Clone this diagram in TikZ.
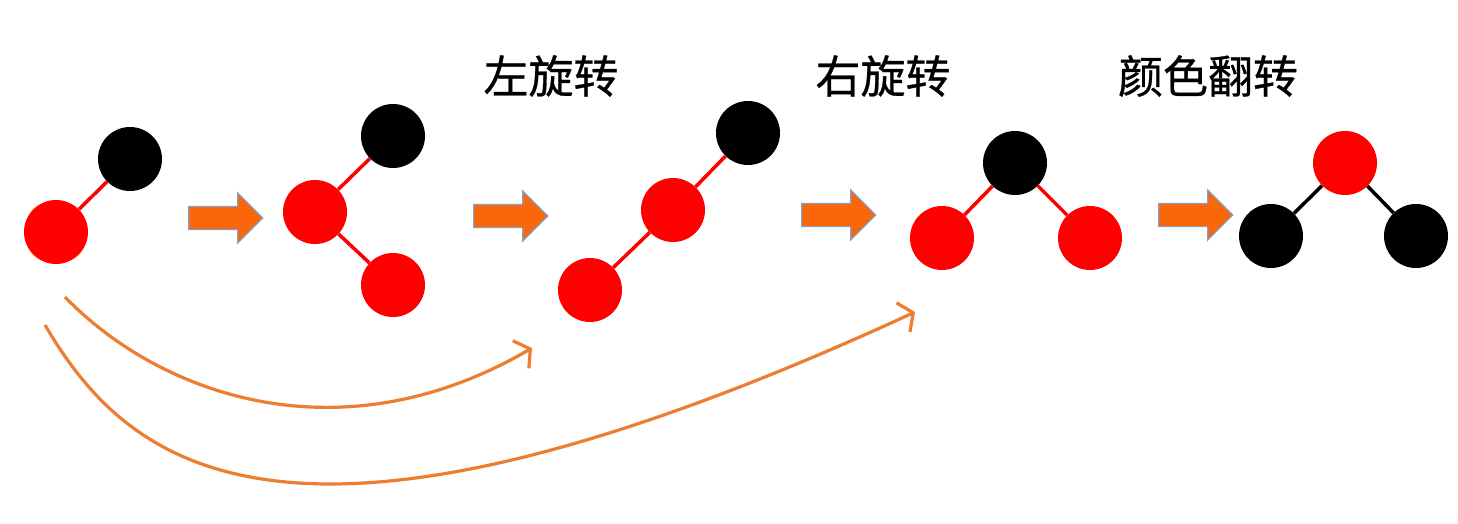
\documentclass[tikz,border=0pt]{standalone}
\usepackage{fontspec}
\newfontfamily\cjk{Noto Sans CJK SC}[RawFeature={embolden=0.6}]
\usetikzlibrary{shapes.arrows,arrows.meta}
\definecolor{rbred}{RGB}{255,0,0}
\definecolor{blockor}{RGB}{250,102,10}
\definecolor{blockedge}{RGB}{130,160,200}
\definecolor{curveor}{RGB}{237,125,49}
\tikzset{
  rn/.style={circle,fill=rbred,minimum size=64pt,inner sep=0pt},
  bn/.style={circle,fill=black,minimum size=64pt,inner sep=0pt},
  redge/.style={draw=rbred,line width=3.5pt},
  bedge/.style={draw=black,line width=3.5pt},
  blockarrow/.style={single arrow,fill=blockor,draw=blockedge,line width=1.2pt,
    minimum height=74pt,inner xsep=0pt,inner ysep=11pt,
    single arrow head extend=13.5pt,single arrow tip angle=90},
  flow/.style={draw=curveor,line width=3.2pt,-{Straight Barb[length=11pt,width=32pt,line width=3.2pt]}},
  lbl/.style={font=\cjk\fontsize{45pt}{50pt}\selectfont}
}
\begin{document}
\begin{tikzpicture}[x=1pt,y=-1pt]
\useasboundingbox (0,0) rectangle (1458,524);
% labels
\node[lbl] (l1) at (551,76) {左旋转};
\node[lbl] (l2) at (883,76) {右旋转};
\node[lbl] (l3) at (1208,76) {颜色翻转};
% tree 1
\node[bn] (a1) at (130,159) {};
\node[rn] (a2) at (56,232) {};
\draw[redge] (a1) -- (a2);
% tree 2
\node[bn] (b1) at (393,136) {};
\node[rn] (b2) at (315,212) {};
\node[rn] (b3) at (393,285) {};
\draw[redge] (b1) -- (b2);
\draw[redge] (b2) -- (b3);
% tree 3
\node[bn] (c1) at (748,133) {};
\node[rn] (c2) at (673,210) {};
\node[rn] (c3) at (590,290) {};
\draw[redge] (c1) -- (c2);
\draw[redge] (c2) -- (c3);
% tree 4
\node[bn] (d1) at (1015,163) {};
\node[rn] (d2) at (942,238) {};
\node[rn] (d3) at (1090,238) {};
\draw[redge] (d1) -- (d2);
\draw[redge] (d1) -- (d3);
% tree 5
\node[rn] (e1) at (1345,163) {};
\node[bn] (e2) at (1271,236) {};
\node[bn] (e3) at (1416,236) {};
\draw[bedge] (e1) -- (e2);
\draw[bedge] (e1) -- (e3);
% block arrows
\node[blockarrow] (p1) at (220,218) {};
\node[blockarrow] (p2) at (505,216) {};
\node[blockarrow] (p3) at (833,215) {};
\node[blockarrow] (p4) at (1190,215) {};
% curves
\coordinate (s1) at (65,297);
\coordinate (t1) at (532,348);
\coordinate (s2) at (45,325);
\coordinate (t2) at (915,312);
\draw[flow] (s1) .. controls (160,395) and (340,460) .. (t1);
\draw[flow] (s2) .. controls (130,470) and (290,600) .. (t2);
\end{tikzpicture}
\end{document}
